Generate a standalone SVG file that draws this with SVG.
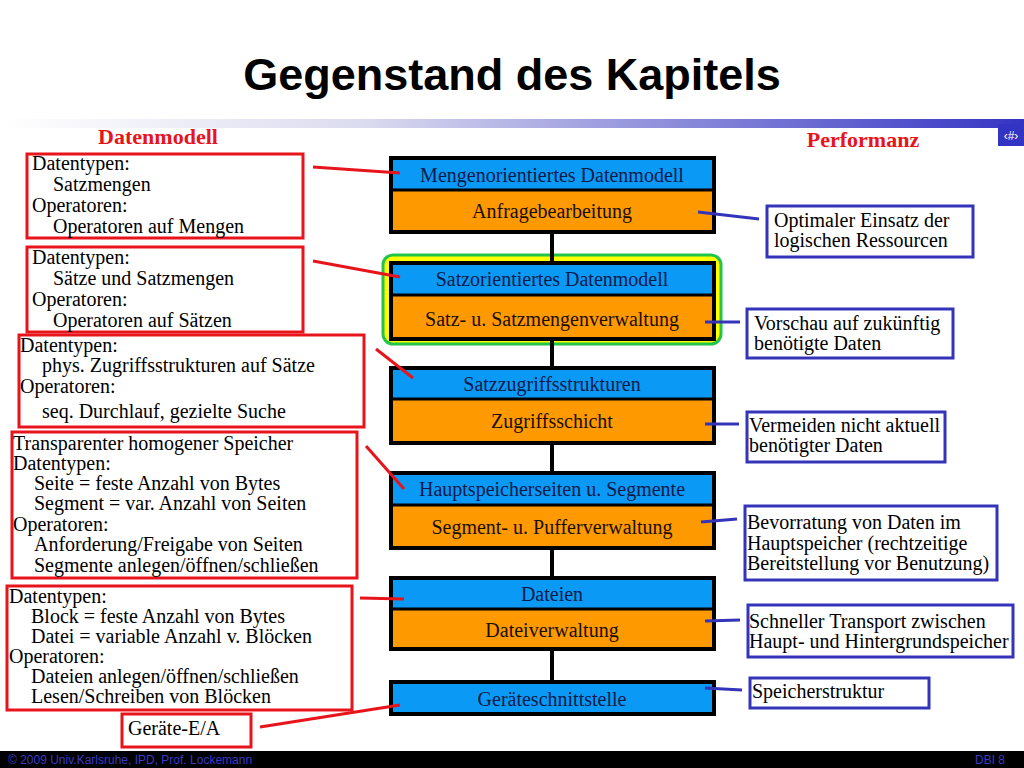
<svg xmlns="http://www.w3.org/2000/svg" width="1024" height="768" viewBox="0 0 1024 768">
<defs>
<linearGradient id="bar" x1="0" y1="0" x2="1" y2="0">
<stop offset="0" stop-color="#ffffff"/>
<stop offset="0.35" stop-color="#dcdcf0"/>
<stop offset="1" stop-color="#3434c4"/>
</linearGradient>
<style>
.t{font-family:"Liberation Serif","Times New Roman",serif;font-size:20px;fill:#000}
.tb{font-family:"Liberation Serif","Times New Roman",serif;font-size:20px;fill:#0b1a4a;text-anchor:middle}
.to{font-family:"Liberation Serif","Times New Roman",serif;font-size:20px;fill:#1a0e00;text-anchor:middle}
.blue{fill:#0a99f5}
.orange{fill:#ff9900}
.frame{fill:none;stroke:#000;stroke-width:4}
.div{stroke:#000;stroke-width:3}
.rbox{fill:#fff;stroke:#e8141c;stroke-width:3}
.bbox{fill:#fff;stroke:#3434bb;stroke-width:3}
.rl{stroke:#e8141c;stroke-width:3;fill:none}
.bl{stroke:#3434bb;stroke-width:3;fill:none}
.vl{stroke:#000;stroke-width:4}
.hd{font-family:"Liberation Serif","Times New Roman",serif;font-size:22px;font-weight:bold;fill:#e8141c;text-anchor:middle}
</style>
</defs>
<rect width="1024" height="768" fill="#fff"/>
<text x="512" y="90" text-anchor="middle" font-family="Liberation Sans, Arial, sans-serif" font-size="45" font-weight="bold" fill="#000">Gegenstand des Kapitels</text>
<rect x="0" y="119" width="1024" height="9" fill="url(#bar)"/>
<rect x="998" y="124" width="26" height="22" fill="#3434c4"/>
<text x="1011" y="140" text-anchor="middle" font-family="Liberation Sans, Arial, sans-serif" font-size="12" fill="#fff">‹#›</text>
<text class="hd" x="158" y="144">Datenmodell</text>
<text class="hd" x="863" y="147">Performanz</text>

<g id="highlight">
<rect x="383" y="255" width="338" height="89" rx="10" fill="#ffff00" stroke="#22c44a" stroke-width="3"/>
</g>

<g id="layer1">
<rect class="blue" x="391" y="158" width="323" height="32"/>
<rect class="orange" x="391" y="190" width="323" height="42"/>
<line class="div" x1="391" y1="190" x2="714" y2="190"/>
<rect class="frame" x="391" y="158" width="323" height="74"/>
<text class="tb" x="552" y="182">Mengenorientiertes Datenmodell</text>
<text class="to" x="552" y="218">Anfragebearbeitung</text>
</g>
<g id="layer2">
<rect class="blue" x="391" y="263" width="323" height="32"/>
<rect class="orange" x="391" y="295" width="323" height="44"/>
<line class="div" x1="391" y1="295" x2="714" y2="295"/>
<rect class="frame" x="391" y="263" width="323" height="76"/>
<text class="tb" x="552" y="286">Satzorientiertes Datenmodell</text>
<text class="to" x="552" y="326">Satz- u. Satzmengenverwaltung</text>
</g>
<g id="layer3">
<rect class="blue" x="391" y="368" width="323" height="31"/>
<rect class="orange" x="391" y="399" width="323" height="44"/>
<line class="div" x1="391" y1="399" x2="714" y2="399"/>
<rect class="frame" x="391" y="368" width="323" height="75"/>
<text class="tb" x="552" y="391">Satzzugriffsstrukturen</text>
<text class="to" x="552" y="428">Zugriffsschicht</text>
</g>
<g id="layer4">
<rect class="blue" x="391" y="473" width="323" height="32"/>
<rect class="orange" x="391" y="505" width="323" height="43"/>
<line class="div" x1="391" y1="505" x2="714" y2="505"/>
<rect class="frame" x="391" y="473" width="323" height="75"/>
<text class="tb" x="552" y="496">Hauptspeicherseiten u. Segmente</text>
<text class="to" x="552" y="534">Segment- u. Pufferverwaltung</text>
</g>
<g id="layer5">
<rect class="blue" x="391" y="578" width="323" height="31"/>
<rect class="orange" x="391" y="609" width="323" height="40"/>
<line class="div" x1="391" y1="609" x2="714" y2="609"/>
<rect class="frame" x="391" y="578" width="323" height="71"/>
<text class="tb" x="552" y="601">Dateien</text>
<text class="to" x="552" y="637">Dateiverwaltung</text>
</g>
<g id="layer6">
<rect class="blue" x="391" y="682" width="323" height="32"/>
<rect class="frame" x="391" y="682" width="323" height="32"/>
<text class="tb" x="552" y="706">Geräteschnittstelle</text>
</g>

<g id="dm1">
<rect class="rbox" x="27" y="154" width="276" height="84"/>
<text class="t" x="32" y="170">Datentypen:</text>
<text class="t" x="53" y="191">Satzmengen</text>
<text class="t" x="32" y="212">Operatoren:</text>
<text class="t" x="53" y="233">Operatoren auf Mengen</text>
</g>
<g id="dm2">
<rect class="rbox" x="27" y="247" width="276" height="85"/>
<text class="t" x="32" y="264">Datentypen:</text>
<text class="t" x="53" y="285">Sätze und Satzmengen</text>
<text class="t" x="32" y="306">Operatoren:</text>
<text class="t" x="53" y="327">Operatoren auf Sätzen</text>
</g>
<g id="dm3">
<rect class="rbox" x="19" y="335" width="345" height="92"/>
<text class="t" x="20" y="352">Datentypen:</text>
<text class="t" x="42" y="372">phys. Zugriffsstrukturen auf Sätze</text>
<text class="t" x="20" y="393">Operatoren:</text>
<text class="t" x="42" y="418">seq. Durchlauf, gezielte Suche</text>
</g>
<g id="dm4">
<rect class="rbox" x="12" y="432" width="345" height="146"/>
<text class="t" x="13" y="450">Transparenter homogener Speicher</text>
<text class="t" x="13" y="470">Datentypen:</text>
<text class="t" x="34" y="490">Seite = feste Anzahl von Bytes</text>
<text class="t" x="34" y="510">Segment = var. Anzahl von Seiten</text>
<text class="t" x="13" y="531">Operatoren:</text>
<text class="t" x="34" y="551">Anforderung/Freigabe von Seiten</text>
<text class="t" x="34" y="572">Segmente anlegen/öffnen/schließen</text>
</g>
<g id="dm5">
<rect class="rbox" x="7" y="586" width="345" height="124"/>
<text class="t" x="9" y="603">Datentypen:</text>
<text class="t" x="31" y="623">Block = feste Anzahl von Bytes</text>
<text class="t" x="31" y="643">Datei = variable Anzahl v. Blöcken</text>
<text class="t" x="9" y="663">Operatoren:</text>
<text class="t" x="31" y="683">Dateien anlegen/öffnen/schließen</text>
<text class="t" x="31" y="703">Lesen/Schreiben von Blöcken</text>
</g>
<g id="dm6">
<rect class="rbox" x="122" y="714" width="129" height="33"/>
<text class="t" x="128" y="735">Geräte-E/A</text>
</g>

<g id="pf1">
<rect class="bbox" x="767" y="206" width="206" height="51"/>
<text class="t" x="774" y="227">Optimaler Einsatz der</text>
<text class="t" x="774" y="247">logischen Ressourcen</text>
</g>
<g id="pf2">
<rect class="bbox" x="747" y="309" width="206" height="49"/>
<text class="t" x="754" y="330">Vorschau auf zukünftig</text>
<text class="t" x="754" y="350">benötigte Daten</text>
</g>
<g id="pf3">
<rect class="bbox" x="747" y="412" width="198" height="50"/>
<text class="t" x="749" y="432">Vermeiden nicht aktuell</text>
<text class="t" x="749" y="452">benötigter Daten</text>
</g>
<g id="pf4">
<rect class="bbox" x="745" y="506" width="252" height="74"/>
<text class="t" x="747" y="529">Bevorratung von Daten im</text>
<text class="t" x="747" y="550">Hauptspeicher (rechtzeitige</text>
<text class="t" x="747" y="570">Bereitstellung vor Benutzung)</text>
</g>
<g id="pf5">
<rect class="bbox" x="748" y="605" width="265" height="52"/>
<text class="t" x="749" y="628">Schneller Transport zwischen</text>
<text class="t" x="749" y="648">Haupt- und Hintergrundspeicher</text>
</g>
<g id="pf6">
<rect class="bbox" x="750" y="678" width="179" height="30"/>
<text class="t" x="752" y="698">Speicherstruktur</text>
</g>

<g id="connectors">
<line class="vl" x1="552" y1="232" x2="552" y2="263"/>
<line class="vl" x1="552" y1="339" x2="552" y2="368"/>
<line class="vl" x1="552" y1="443" x2="552" y2="473"/>
<line class="vl" x1="552" y1="548" x2="552" y2="578"/>
<line class="vl" x1="552" y1="649" x2="552" y2="682"/>
<line class="rl" x1="313" y1="167" x2="400" y2="173"/>
<line class="rl" x1="313" y1="261" x2="400" y2="277"/>
<line class="rl" x1="376" y1="349" x2="413" y2="378"/>
<line class="rl" x1="366" y1="446" x2="404" y2="489"/>
<line class="rl" x1="360" y1="598" x2="404" y2="599"/>
<line class="rl" x1="260" y1="727" x2="400" y2="705"/>
<line class="bl" x1="698" y1="212" x2="759" y2="219"/>
<line class="bl" x1="705" y1="322" x2="740" y2="322"/>
<line class="bl" x1="705" y1="424" x2="739" y2="424"/>
<line class="bl" x1="701" y1="522" x2="737" y2="519"/>
<line class="bl" x1="705" y1="621" x2="740" y2="620"/>
<line class="bl" x1="705" y1="688" x2="742" y2="690"/>
</g>

<rect x="0" y="751" width="1024" height="17" fill="#000"/>
<text x="8" y="764" font-family="Liberation Sans, Arial, sans-serif" font-size="12" fill="#3a3ac8">© 2009 Univ.Karlsruhe, IPD, Prof. Lockemann</text>
<text x="1005" y="764" text-anchor="end" font-family="Liberation Sans, Arial, sans-serif" font-size="12" fill="#3a3ac8">DBI 8</text>
</svg>
